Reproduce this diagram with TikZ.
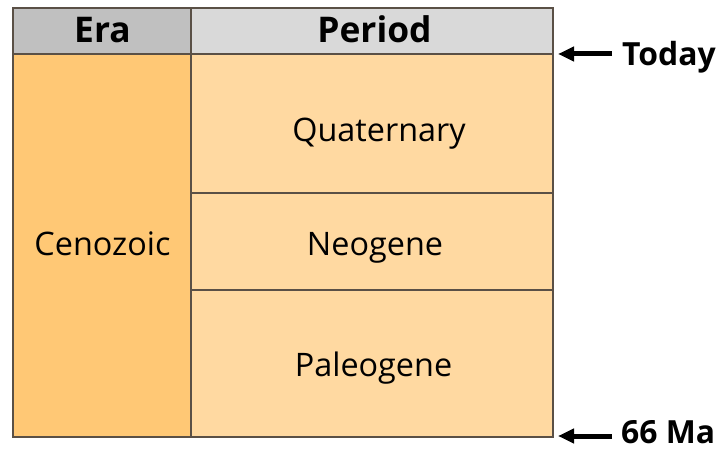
\documentclass[tikz,border=0pt]{standalone}
\usepackage{fontspec}
\setmainfont{Open Sans}
\usetikzlibrary{arrows.meta}
\definecolor{eraHead}{HTML}{C0C0C0}
\definecolor{perHead}{HTML}{D9D9D9}
\definecolor{eraFill}{HTML}{FFC875}
\definecolor{perFill}{HTML}{FFD9A1}
\definecolor{gridLine}{HTML}{5A5046}
\tikzset{
  cell/.style={draw=gridLine, line width=1.6pt},
  headtxt/.style={font=\fontsize{35.5}{40}\selectfont\bfseries, anchor=base, inner sep=0pt},
  bodytxt/.style={font=\fontsize{32.5}{38}\selectfont, anchor=base, inner sep=0pt},
  marktxt/.style={font=\fontsize{32}{38}\selectfont\bfseries, anchor=base west, inner sep=0pt},
  markarrow/.style={-{Triangle[length=16bp,width=14bp]}, line width=5bp, black}
}
\begin{document}
\begin{tikzpicture}[x=1bp,y=-1bp]
\useasboundingbox (0,0) rectangle (719,451);
% header
\path[cell, fill=eraHead] (13,8) rectangle (191,54);
\path[cell, fill=perHead] (191,8) rectangle (553,54);
% body
\path[cell, fill=eraFill] (13,54) rectangle (191,437);
\path[cell, fill=perFill] (191,54) rectangle (553,193);
\path[cell, fill=perFill] (191,193) rectangle (553,290);
\path[cell, fill=perFill] (191,290) rectangle (553,437);
\node[headtxt] (era) at (102.5,42.5) {Era};
\node[headtxt] (period) at (374.5,42.5) {Period};
\node[bodytxt] (ceno) at (102.5,256) {Cenozoic};
\node[bodytxt] (quat) at (379,142) {Quaternary};
\node[bodytxt] (neo) at (375,256) {Neogene};
\node[bodytxt] (paleo) at (373.5,376.5) {Paleogene};
\node[marktxt] (today) at (622,66) {Today};
\node[marktxt] (ma) at (621,443) {66 Ma};
\coordinate (t0) at (612,54);
\coordinate (t1) at (558,54);
\coordinate (m0) at (612,436);
\coordinate (m1) at (558,436);
\draw[markarrow] (t0) -- (t1);
\draw[markarrow] (m0) -- (m1);
\end{tikzpicture}
\end{document}
